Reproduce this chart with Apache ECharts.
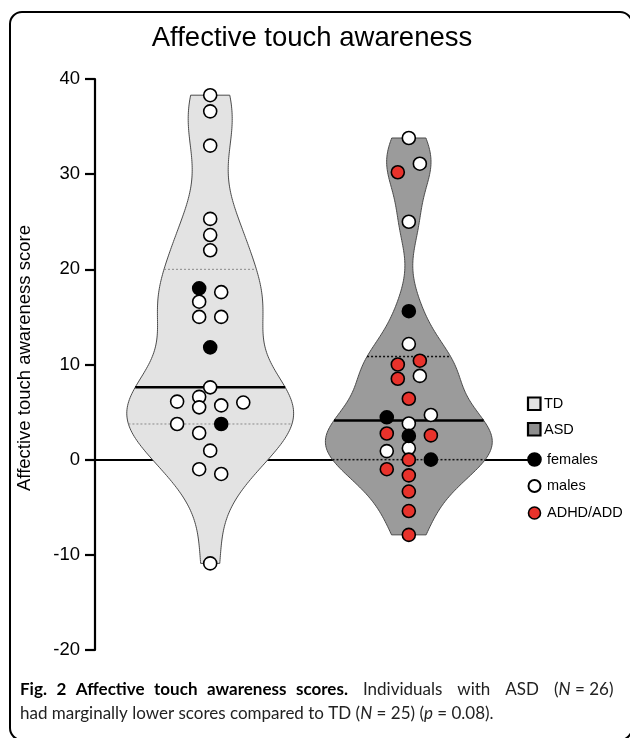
<!DOCTYPE html>
<html><head><meta charset="utf-8">
<script src="https://cdn.jsdelivr.net/npm/echarts@6/dist/echarts.min.js"></script>
<style>html,body{margin:0;padding:0;background:#fff}#c{width:630px;height:738px}</style>
</head><body><div id="c"></div>
<script>
// ---- data ----
const groups = ['TD', 'ASD'];
const groupCenter = [1, 2];
const yTicks = [-20, -10, 0, 10, 20, 30, 40];
// TD: values, sex (F = female, M = male), beeswarm column
const tdValues = [38.3, 36.6, 33.0, 25.3, 23.6, 22.0, 18.0, 17.6, 16.6, 15.0, 15.0, 11.8, 7.6, 6.1, 6.6, 5.5, 5.7, 6.0, 3.75, 3.75, 2.8, 0.95, -1.0, -1.5, -10.9];
const tdType   = ['M','M','M','M','M','M','F','M','M','M','M','F','M','M','M','M','M','M','M','F','M','M','M','M','M'];
const tdColumn = [0,0,0,0,0,0,-1,1,-1,-1,1,0,0,-3,-1,-1,1,3,-3,1,-1,0,-1,1,0];
// ASD: values, type (F = female, M = male, A = ADHD/ADD), beeswarm column
const asdValues = [33.8, 31.1, 30.2, 25.0, 15.6, 12.15, 10.4, 10.0, 8.8, 8.5, 6.4, 4.7, 4.45, 3.8, 2.75, 2.55, 2.5, 1.2, 0.9, 0, 0, -1.0, -1.65, -3.35, -5.4, -7.9];
const asdType   = ['M','M','A','M','F','M','A','A','M','A','A','M','F','M','A','A','F','M','M','A','F','A','A','A','A','A'];
const asdColumn = [0,1,-1,0,0,0,1,-1,1,-1,0,2,-2,0,-2,2,0,0,-2,0,2,-2,0,0,0,0];
const legendNames = ['TD', 'ASD', 'females', 'males', 'ADHD/ADD'];

// ---- helpers ----
const groupValues = [tdValues, asdValues];
const groupTypes = [tdType, asdType];
const groupColumns = [tdColumn, asdColumn];
const SMOOTH = 0.72;       // fraction of Silverman bandwidth
const HALF = 0.42;         // max half width of violin in x units
const COL = 0.0555;        // column step in x units
function quantile(sorted, p) {
  const pos = (sorted.length + 1) * p, lo = Math.floor(pos), f = pos - lo;
  if (lo < 1) return sorted[0];
  if (lo >= sorted.length) return sorted[sorted.length - 1];
  return sorted[lo - 1] + f * (sorted[lo] - sorted[lo - 1]);
}
function bandwidth(vals) {
  const n = vals.length, m = vals.reduce((a, b) => a + b, 0) / n;
  const sd = Math.sqrt(vals.reduce((a, b) => a + (b - m) * (b - m), 0) / (n - 1));
  const s = vals.slice().sort((a, b) => a - b);
  const iqr = quantile(s, 0.75) - quantile(s, 0.25);
  return SMOOTH * 0.9 * Math.min(sd, iqr / 1.34) * Math.pow(n, -0.2);
}
function kde(vals, h, y) { let s = 0; for (const v of vals) { const u = (y - v) / h; s += Math.exp(-0.5 * u * u); } return s; }
const violinFill = ['#e3e3e3', '#9b9b9b'];
const quartColor = ['#8a8a8a', '#111'];

function renderViolin(params, api) {
  const gi = api.value(2);
  const cx = groupCenter[gi];
  const vals = groupValues[gi];
  const h = bandwidth(vals);
  const sorted = vals.slice().sort((a, b) => a - b);
  const lo = sorted[0], hi = sorted[sorted.length - 1];
  const N = 240;
  let maxD = 0; const ys = [], ds = [];
  for (let i = 0; i <= N; i++) { const y = lo + (hi - lo) * i / N; const d = kde(vals, h, y); ys.push(y); ds.push(d); if (d > maxD) maxD = d; }
  const halfAt = y => HALF * kde(vals, h, y) / maxD;
  const right = [], left = [];
  for (let i = 0; i <= N; i++) {
    const w = HALF * ds[i] / maxD;
    right.push(api.coord([cx + w, ys[i]]));
    left.push(api.coord([cx - w, ys[i]]));
  }
  const pts = right.concat(left.reverse());
  const children = [{
    type: 'polygon', shape: { points: pts },
    style: { fill: violinFill[gi], stroke: '#4a4a4a', lineWidth: 1 }
  }];
  const q1 = quantile(sorted, 0.25), q2 = quantile(sorted, 0.5), q3 = quantile(sorted, 0.75);
  [q1, q3].forEach(q => {
    const w = halfAt(q); const a = api.coord([cx - w, q]), b = api.coord([cx + w, q]);
    children.push({ type: 'line', shape: { x1: a[0], y1: a[1], x2: b[0], y2: b[1] },
      style: { stroke: quartColor[gi], lineWidth: gi === 0 ? 1 : 1.5, lineDash: [2, 2] } });
  });
  { const w = halfAt(q2); const a = api.coord([cx - w, q2]), b = api.coord([cx + w, q2]);
    children.push({ type: 'line', shape: { x1: a[0], y1: a[1], x2: b[0], y2: b[1] },
      style: { stroke: '#000', lineWidth: 2.5 } }); }
  return { type: 'group', children };
}

function pointsOf(typeCode) {
  const out = [];
  groupValues.forEach((vals, gi) => vals.forEach((v, i) => {
    if (groupTypes[gi][i] === typeCode) out.push([groupCenter[gi] + groupColumns[gi][i] * COL, v]);
  }));
  return out;
}
const pointStyle = { borderColor: '#000', borderWidth: 1.6 };

const chart = echarts.init(document.getElementById('c'), null, { renderer: 'canvas' });
const FONT = '"Liberation Sans", Arial, Helvetica, sans-serif';
const CAP = 'Lato, "Open Sans", sans-serif';
chart.setOption({
  animation: false,
  backgroundColor: '#fff',
  grid: { left: 95, right: 102, top: 79, bottom: 88 },
  xAxis: {
    type: 'value', min: 0.42, max: 2.6,
    axisLine: { show: true, onZero: true, lineStyle: { color: '#000', width: 2 } },
    axisTick: { show: false }, axisLabel: { show: false }, splitLine: { show: false }
  },
  yAxis: {
    type: 'value', min: yTicks[0], max: yTicks[yTicks.length - 1], interval: 10,
    axisLine: { show: true, lineStyle: { color: '#000', width: 2.2 } },
    axisTick: { show: true, length: 10, lineStyle: { color: '#000', width: 2.2 } },
    axisLabel: { color: '#000', fontSize: 18.5, fontFamily: FONT, margin: 15 },
    splitLine: { show: false }
  },
  series: [
    { type: 'custom', name: 'violins', renderItem: renderViolin,
      data: groups.map((g, gi) => [groupCenter[gi], 0, gi]), encode: { x: 0, y: 1 }, z: 2 },
    { type: 'scatter', name: 'males', data: pointsOf('M'), symbolSize: 13,
      itemStyle: Object.assign({ color: '#fff', opacity: 1 }, pointStyle), z: 3 },
    { type: 'scatter', name: 'females', data: pointsOf('F'), symbolSize: 13,
      itemStyle: Object.assign({ color: '#000', opacity: 1 }, pointStyle), z: 3 },
    { type: 'scatter', name: 'ADHD/ADD', data: pointsOf('A'), symbolSize: 13,
      itemStyle: Object.assign({ color: '#e8322b', opacity: 1 }, pointStyle), z: 3 }
  ],
  graphic: [
    { type: 'rect', shape: { x: 10, y: 12, width: 622, height: 728, r: 12 },
      style: { fill: 'none', stroke: '#000', lineWidth: 2 }, z: 10 },
    { type: 'text', x: 312, y: 38, style: { text: 'Affective touch awareness', font: '27.5px ' + FONT, fill: '#000', align: 'center', verticalAlign: 'middle' } },
    { type: 'text', x: 25, y: 358, rotation: Math.PI / 2,
      style: { text: 'Affective touch awareness score', font: '18.5px ' + FONT, fill: '#000', align: 'center', verticalAlign: 'middle' } },
    // legend
    { type: 'rect', shape: { x: 528, y: 397.5, width: 12.5, height: 12.5 }, style: { fill: '#e3e3e3', stroke: '#000', lineWidth: 2.2 } },
    { type: 'text', x: 544, y: 404, style: { text: legendNames[0], font: '14.5px ' + FONT, fill: '#000', verticalAlign: 'middle' } },
    { type: 'rect', shape: { x: 528, y: 423, width: 12.5, height: 12.5 }, style: { fill: '#8e8e8e', stroke: '#000', lineWidth: 2.2 } },
    { type: 'text', x: 544, y: 429.5, style: { text: legendNames[1], font: '14.5px ' + FONT, fill: '#000', verticalAlign: 'middle' } },
    { type: 'circle', shape: { cx: 534.5, cy: 459.5, r: 6.5 }, style: { fill: '#000', stroke: '#000', lineWidth: 1.6 } },
    { type: 'text', x: 547, y: 459.5, style: { text: legendNames[2], font: '14.5px ' + FONT, fill: '#000', verticalAlign: 'middle' } },
    { type: 'circle', shape: { cx: 534.5, cy: 486, r: 6 }, style: { fill: '#fff', stroke: '#000', lineWidth: 2 } },
    { type: 'text', x: 547, y: 486, style: { text: legendNames[3], font: '14.5px ' + FONT, fill: '#000', verticalAlign: 'middle' } },
    { type: 'circle', shape: { cx: 534.5, cy: 513, r: 6 }, style: { fill: '#e8322b', stroke: '#000', lineWidth: 1.6 } },
    { type: 'text', x: 547, y: 513, style: { text: legendNames[4], font: '14.5px ' + FONT, fill: '#000', verticalAlign: 'middle' } },
    // caption (first line justified)
    { type: 'text', x: 20, y: 690, style: {
      text: '{b|Fig.}{gb| }{b|2}{gb| }{b|Affective}{gb| }{b|touch}{gb| }{b|awareness}{gb| }{b|scores.}{g| }{r|Individuals}{g| }{r|with}{g| }{r|ASD}{g| }{r|(}{i|N}{r| = 26)}',
      verticalAlign: 'middle',
      rich: {
        b: { font: 'bold 17px ' + CAP, fill: '#000' },
        gb: { font: 'bold 17px ' + CAP, width: 9.5 },
        g: { font: '17px ' + CAP, width: 15 },
        r: { font: '17px ' + CAP, fill: '#222' },
        i: { font: 'italic 17px ' + CAP, fill: '#222' }
      } } },
    { type: 'text', x: 20, y: 714, style: {
      text: '{r|had marginally lower scores compared to TD (}{i|N}{r| = 25) (}{i|p}{r| = 0.08).}',
      verticalAlign: 'middle',
      rich: {
        r: { font: '17px ' + CAP, fill: '#222' },
        i: { font: 'italic 17px ' + CAP, fill: '#222' }
      } } }
  ]
});
</script></body></html>
